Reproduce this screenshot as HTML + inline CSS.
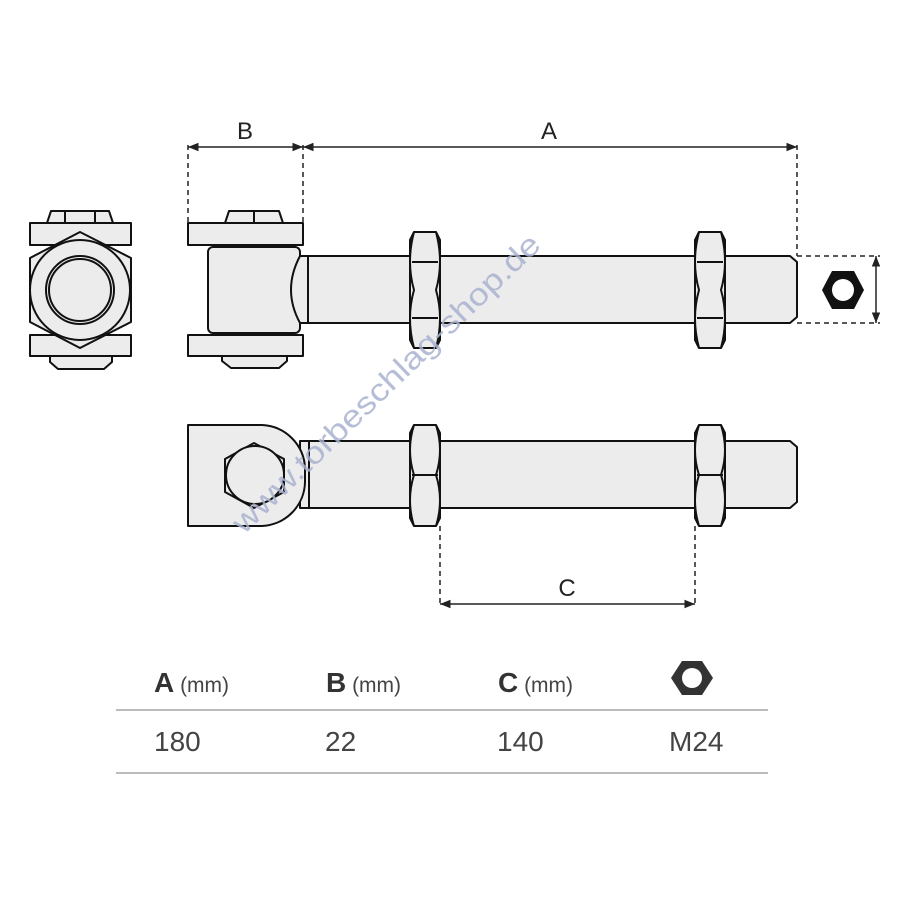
<!DOCTYPE html>
<html><head><meta charset="utf-8"><style>
html,body{margin:0;padding:0;background:#fff;}
svg{display:block;}
</style></head><body>
<svg width="900" height="900" viewBox="0 0 900 900" xmlns="http://www.w3.org/2000/svg">
<defs>
<marker id="ar" viewBox="0 0 10 10" refX="10" refY="5" markerWidth="7" markerHeight="7" orient="auto-start-reverse"><path d="M0,1 L10,5 L0,9 z" fill="#222"/></marker>
</defs>
<g stroke="#111" stroke-width="2" fill="#ececec" stroke-linejoin="round">
<!-- front view -->
<path d="M47,223 L51,211 L109,211 L113,223 Z"/>
<line x1="65" y1="211" x2="65" y2="223"/><line x1="95" y1="211" x2="95" y2="223"/>
<rect x="30" y="223" width="101" height="22"/>
<rect x="30" y="335" width="101" height="21"/>
<path d="M50,356 H112 V362 L104,369 H58 L50,362 Z"/>
<path d="M80,232 L131,258 L131,322 L80,348 L30,322 L30,258 Z"/>
<circle cx="80" cy="290" r="50"/>
<circle cx="80" cy="290" r="34"/>
<circle cx="80" cy="290" r="31"/>
<!-- side view -->
<path d="M225,223 L229,211 L279,211 L283,223 Z"/>
<line x1="254" y1="211" x2="254" y2="223"/>
<rect x="188" y="223" width="115" height="22"/>
<rect x="188" y="335" width="115" height="21"/>
<path d="M222,356 H287 V361 L279,368 H231 L222,361 Z"/>
<rect x="208" y="247" width="92" height="86" rx="5"/>
<path d="M797,262 L790,256 H300 V323 H790 L797,317 Z"/>
<path d="M300,256 Q282,290 300,323 H308 V256 Z"/>
<g>
<path d="M414,232 H436 L440,240 V340 L436,348 H414 L410,340 V240 Z"/>
<path d="M414,232 Q406,262 414,290 Q406,318 414,348 M436,232 Q444,262 436,290 Q444,318 436,348" fill="none"/>
<line x1="412" y1="262" x2="438" y2="262"/><line x1="412" y1="318" x2="438" y2="318"/>
</g>
<g>
<path d="M699,232 H721 L725,240 V340 L721,348 H699 L695,340 V240 Z"/>
<path d="M699,232 Q691,262 699,290 Q691,318 699,348 M721,232 Q729,262 721,290 Q729,318 721,348" fill="none"/>
<line x1="697" y1="262" x2="723" y2="262"/><line x1="697" y1="318" x2="723" y2="318"/>
</g>
<!-- bottom view -->
<path d="M797,447 L790,441 H305 V508 H790 L797,502 Z"/>
<rect x="300" y="441" width="9" height="67"/>
<path d="M188,425 H262 A45,45 0 0 1 305,468 V482 A45,45 0 0 1 262,526 H188 Z"/>
<path d="M254,443 L284,459 L284,492 L254,508 L225,492 L225,459 Z"/>
<circle cx="255" cy="475" r="29"/>
<g>
<path d="M414,425 H436 L440,433 V518 L436,526 H414 L410,518 V433 Z"/>
<path d="M414,425 Q406,450 414,475 Q406,500 414,526 M436,425 Q444,450 436,475 Q444,500 436,526" fill="none"/>
<line x1="412" y1="475" x2="438" y2="475"/>
</g>
<g>
<path d="M699,425 H721 L725,433 V518 L721,526 H699 L695,518 V433 Z"/>
<path d="M699,425 Q691,450 699,475 Q691,500 699,526 M721,425 Q729,450 721,475 Q729,500 721,526" fill="none"/>
<line x1="697" y1="475" x2="723" y2="475"/>
</g>
</g>
<!-- dims -->
<g stroke="#222" stroke-width="1.5" fill="none" stroke-dasharray="5,4">
<line x1="188" y1="145" x2="188" y2="223"/>
<line x1="303" y1="145" x2="303" y2="223"/>
<line x1="797" y1="145" x2="797" y2="256"/>
<line x1="797" y1="256" x2="880" y2="256"/>
<line x1="797" y1="323" x2="880" y2="323"/>
<line x1="440" y1="526" x2="440" y2="606"/>
<line x1="695" y1="526" x2="695" y2="606"/>
</g>
<g stroke="#222" stroke-width="1.5">
<line x1="188" y1="147" x2="303" y2="147" marker-start="url(#ar)" marker-end="url(#ar)"/>
<line x1="303" y1="147" x2="797" y2="147" marker-start="url(#ar)" marker-end="url(#ar)"/>
<line x1="876" y1="256" x2="876" y2="323" marker-start="url(#ar)" marker-end="url(#ar)"/>
<line x1="440" y1="604" x2="695" y2="604" marker-start="url(#ar)" marker-end="url(#ar)"/>
</g>
<path d="M832,271 H854 L864,290 L854,309 H832 L822,290 Z" fill="#111"/>
<circle cx="843" cy="290" r="11" fill="#fff"/>
<g font-family="Liberation Sans, sans-serif" font-size="24" fill="#222" text-anchor="middle">
<text x="245" y="139">B</text><text x="549" y="139">A</text><text x="567" y="596">C</text>
</g>
<text transform="translate(244,535) rotate(-44)" font-family="Liberation Sans, sans-serif" font-size="31" textLength="415" lengthAdjust="spacingAndGlyphs" fill="#a9b2cf" fill-opacity="0.85">www.torbeschlag-shop.de</text>
<!-- table -->
<line x1="116" y1="710" x2="768" y2="710" stroke="#bbb" stroke-width="2"/>
<line x1="116" y1="773" x2="768" y2="773" stroke="#bbb" stroke-width="2"/>
<g font-family="Liberation Sans, sans-serif" fill="#333">
<text x="154" y="692" font-size="28" font-weight="bold">A<tspan font-size="21" font-weight="normal" fill="#444"> (mm)</tspan></text>
<text x="326" y="692" font-size="28" font-weight="bold">B<tspan font-size="21" font-weight="normal" fill="#444"> (mm)</tspan></text>
<text x="498" y="692" font-size="28" font-weight="bold">C<tspan font-size="21" font-weight="normal" fill="#444"> (mm)</tspan></text>
<g font-size="28" fill="#444">
<text x="154" y="751">180</text><text x="325" y="751">22</text><text x="497" y="751">140</text><text x="669" y="751">M24</text>
</g>
</g>
<path d="M682,661 H702 L713,678 L702,695 H682 L671,678 Z" fill="#333"/>
<circle cx="692" cy="678" r="10" fill="#fff"/>
</svg>
</body></html>
